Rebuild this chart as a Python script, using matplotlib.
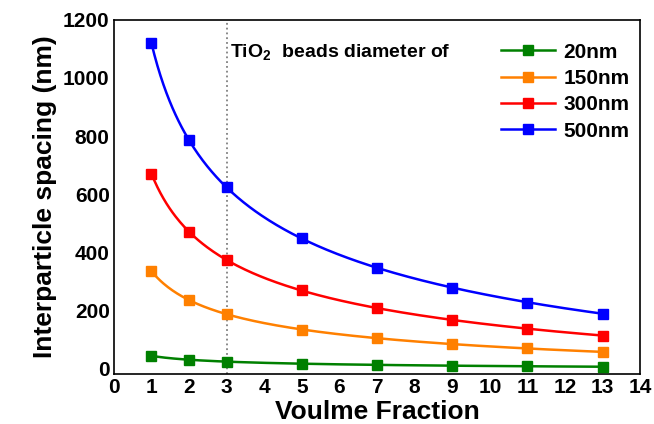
import numpy as np
import matplotlib
matplotlib.use("Agg")
import matplotlib.pyplot as plt
from matplotlib.lines import Line2D

plt.rcParams["font.family"] = ["Liberation Sans", "DejaVu Sans"]
plt.rcParams["font.weight"] = "bold"
plt.rcParams["mathtext.fontset"] = "custom"
plt.rcParams["mathtext.rm"] = "Liberation Sans:bold"
plt.rcParams["mathtext.bf"] = "Liberation Sans:bold"
plt.rcParams["mathtext.default"] = "bf"

volume_fraction = [1, 2, 3, 5, 7, 9, 11, 13]
labels = ["20nm", "150nm", "300nm", "500nm"]
colors = ["#008000", "#ff8000", "#ff0000", "#0000ff"]
spacing_20 = [43, 29, 22, 15, 11, 9, 7, 5]
spacing_150 = [334, 236, 186, 133, 103, 83, 68, 56]
spacing_300 = [670, 470, 374, 268, 208, 166, 136, 111]
spacing_500 = [1120, 785, 624, 449, 346, 277, 226, 187]
series = [spacing_20, spacing_150, spacing_300, spacing_500]
xticks = list(range(0, 15))
yticks = list(range(0, 1201, 200))

fig = plt.figure(figsize=(6.54, 4.24), dpi=100)
ax = fig.add_axes([0.174, 0.118, 0.805, 0.835])

x = np.array(volume_fraction, dtype=float)
xs = np.linspace(1, 13, 300)
handles = []
for ys, c, lab in zip(series, colors, labels):
    # smooth fit y = a * x^(-1/3) + b
    a, b = np.polyfit(x ** (-1 / 3), ys, 1)
    ax.plot(xs, a * xs ** (-1 / 3) + b, color=c, lw=1.8, zorder=2)
    ax.plot(x, ys, "s", color=c, ms=7.5, zorder=3)
    handles.append(Line2D([], [], color=c, lw=1.8, marker="s", ms=7.5))

ax.axvline(3, color="gray", ls=":", lw=1.3, zorder=1)

ax.set_xlim(0, 14)
ax.set_ylim(-20, 1200)
ax.set_xticks(xticks)
ax.set_xticklabels([str(t) for t in xticks], fontsize=15, fontweight="bold")
ax.set_yticks(yticks)
ax.set_yticklabels([str(t) for t in yticks], fontsize=15, fontweight="bold")
ax.tick_params(length=0, pad=3)
for sp in ax.spines.values():
    sp.set_linewidth(1.2)

ax.set_xlabel("Voulme Fraction", fontsize=19, fontweight="bold", labelpad=2)
ax.set_ylabel("Interparticle spacing (nm)", fontsize=19, fontweight="bold", labelpad=4)

ax.text(3.1, 1090, r"TiO$_{2}$  beads diameter of", fontsize=14,
        fontweight="bold", va="center", ha="left")

leg = ax.legend(handles, labels, loc="upper right", frameon=False, fontsize=15,
                handlelength=2.6, labelspacing=0.35, handletextpad=0.4,
                borderaxespad=0.1, bbox_to_anchor=(1.0, 0.965))
for t in leg.get_texts():
    t.set_fontweight("bold")

fig.savefig("out.png", dpi=100)
